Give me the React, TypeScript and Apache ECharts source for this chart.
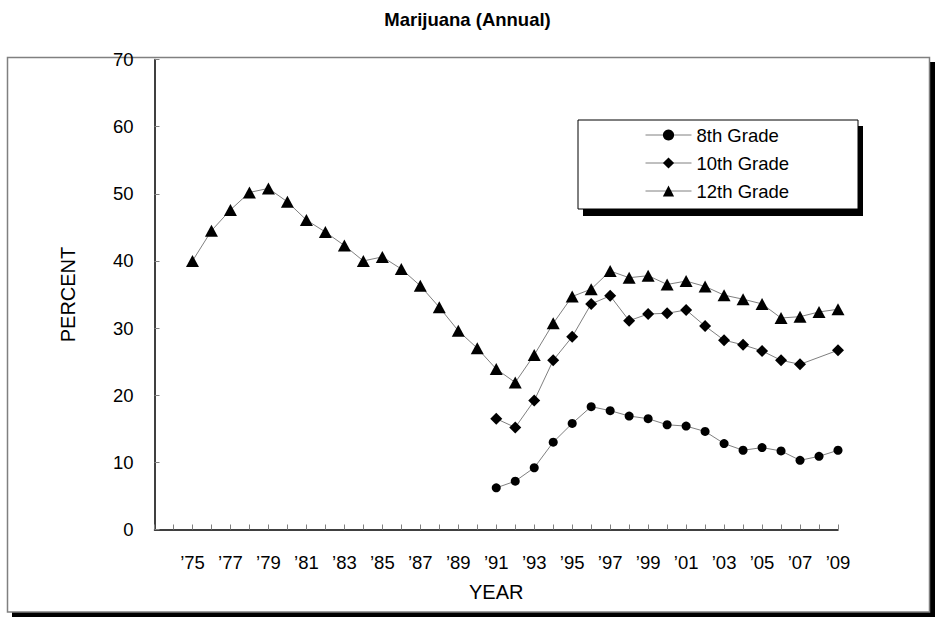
import React, { useEffect, useRef } from "react";
import * as echarts from "echarts";

const years = [
  1975, 1976, 1977, 1978, 1979, 1980, 1981, 1982, 1983, 1984, 1985, 1986, 1987,
  1988, 1989, 1990, 1991, 1992, 1993, 1994, 1995, 1996, 1997, 1998, 1999, 2000,
  2001, 2002, 2003, 2004, 2005, 2006, 2007, 2008, 2009,
];
const yearLabelYears = [1975, 1977, 1979, 1981, 1983, 1985, 1987, 1989, 1991, 1993, 1995, 1997, 1999, 2001, 2003, 2005, 2007, 2009];
const yearLabels = ["’75", "’77", "’79", "’81", "’83", "’85", "’87", "’89", "’91", "’93", "’95", "’97", "’99", "’01", "’03", "’05", "’07", "’09"];

const grade12 = [
  40.0, 44.5, 47.6, 50.2, 50.8, 48.8, 46.1, 44.3, 42.3, 40.0, 40.6, 38.8, 36.3,
  33.1, 29.6, 27.0, 23.9, 21.9, 26.0, 30.7, 34.7, 35.8, 38.5, 37.5, 37.8, 36.5,
  37.0, 36.2, 34.9, 34.3, 33.6, 31.5, 31.7, 32.4, 32.8,
];
const grade10 = [
  null, null, null, null, null, null, null, null, null, null, null, null, null,
  null, null, null, 16.5, 15.2, 19.2, 25.2, 28.7, 33.6, 34.8, 31.1, 32.1, 32.2,
  32.7, 30.3, 28.2, 27.5, 26.6, 25.2, 24.6, null, 26.7,
];
const grade8 = [
  null, null, null, null, null, null, null, null, null, null, null, null, null,
  null, null, null, 6.2, 7.2, 9.2, 13.0, 15.8, 18.3, 17.7, 16.9, 16.5, 15.6,
  15.4, 14.6, 12.8, 11.8, 12.2, 11.7, 10.3, 10.9, 11.8,
];
const seriesNames = ["8th Grade", "10th Grade", "12th Grade"];

const FONT = "Liberation Sans, Arial, sans-serif";

function pairs(vals: (number | null)[]) {
  return years.map((y, i) => [y, vals[i] === null ? null : vals[i]]);
}

export default function App() {
  const ref = useRef<HTMLDivElement>(null);
  useEffect(() => {
    if (!ref.current) return;
    const chart = echarts.init(ref.current, undefined, { renderer: "svg" });
    const lineStyle = { color: "#808080", width: 1 };
    const mk = (name: string, vals: (number | null)[], symbol: string, size: any) => ({
      name,
      type: "line",
      data: pairs(vals),
      connectNulls: true,
      symbol,
      symbolSize: size,
      showAllSymbol: true,
      lineStyle,
      itemStyle: { color: "#000", borderWidth: 0 },
      emphasis: { disabled: true },
    });
    chart.setOption({
      animation: false,
      backgroundColor: "#fff",
      title: {
        text: "Marijuana (Annual)",
        left: "center",
        top: 5,
        textStyle: { fontFamily: FONT, fontSize: 18.5, fontWeight: "bold", color: "#000" },
      },
      graphic: [
        { type: "rect", z: -10, shape: { x: 12, y: 62, width: 923, height: 555 }, style: { fill: "#000" } },
        { type: "rect", z: -9, shape: { x: 7.5, y: 57.5, width: 922, height: 554.5 }, style: { fill: "#fff", stroke: "#808080", lineWidth: 1.5 } },
        { type: "rect", z: -8, shape: { x: 583, y: 126, width: 280, height: 90 }, style: { fill: "#000" } },
        { type: "rect", z: -7, shape: { x: 578, y: 120, width: 280, height: 89 }, style: { fill: "#fff", stroke: "#000", lineWidth: 1 } },
      ],
      legend: {
        orient: "vertical",
        left: 640,
        top: 120.5,
        itemWidth: 46,
        itemHeight: 14,
        itemGap: 9,
        data: seriesNames,
        textStyle: { fontFamily: FONT, fontSize: 18.5, lineHeight: 18, color: "#000" },
        itemStyle: { color: "#000" },
        lineStyle: { color: "#808080", width: 1 },
      },
      grid: { left: 154.5, top: 59.5, right: 935 - 838, bottom: 617 - 529.5, containLabel: false },
      xAxis: {
        type: "value",
        min: 1973,
        max: 2009,
        interval: 1,
        name: "YEAR",
        nameLocation: "middle",
        nameGap: 52,
        nameTextStyle: { fontFamily: FONT, fontSize: 20, color: "#000" },
        axisLine: { lineStyle: { color: "#000", width: 1.5 } },
        axisTick: { inside: true, length: 5, lineStyle: { color: "#808080" } },
        splitLine: { show: false },
        axisLabel: {
          margin: 23,
          fontFamily: FONT,
          fontSize: 18.5,
          color: "#000",
          showMinLabel: true,
          showMaxLabel: true,
          formatter: (v: number) => {
            const i = yearLabelYears.indexOf(v);
            return i >= 0 ? yearLabels[i] : "";
          },
        },
      },
      yAxis: {
        type: "value",
        min: 0,
        max: 70,
        interval: 10,
        name: "PERCENT",
        nameLocation: "middle",
        nameGap: 77,
        nameRotate: 90,
        nameTextStyle: { fontFamily: FONT, fontSize: 20, color: "#000" },
        axisLine: { show: true, lineStyle: { color: "#000", width: 1.5 } },
        axisTick: { show: true, inside: true, length: 5, lineStyle: { color: "#808080" } },
        splitLine: { show: false },
        axisLabel: { margin: 21, fontFamily: FONT, fontSize: 18.5, color: "#000" },
      },
      series: [
        mk(seriesNames[0], grade8, "circle", 9),
        mk(seriesNames[1], grade10, "diamond", 12),
        mk(seriesNames[2], grade12, "triangle", [13, 12]),
      ],
    });
    return () => chart.dispose();
  }, []);
  return (
    <div
      ref={ref}
      style={{ position: "fixed", left: 0, top: 0, width: 935, height: 617 }}
    />
  );
}
